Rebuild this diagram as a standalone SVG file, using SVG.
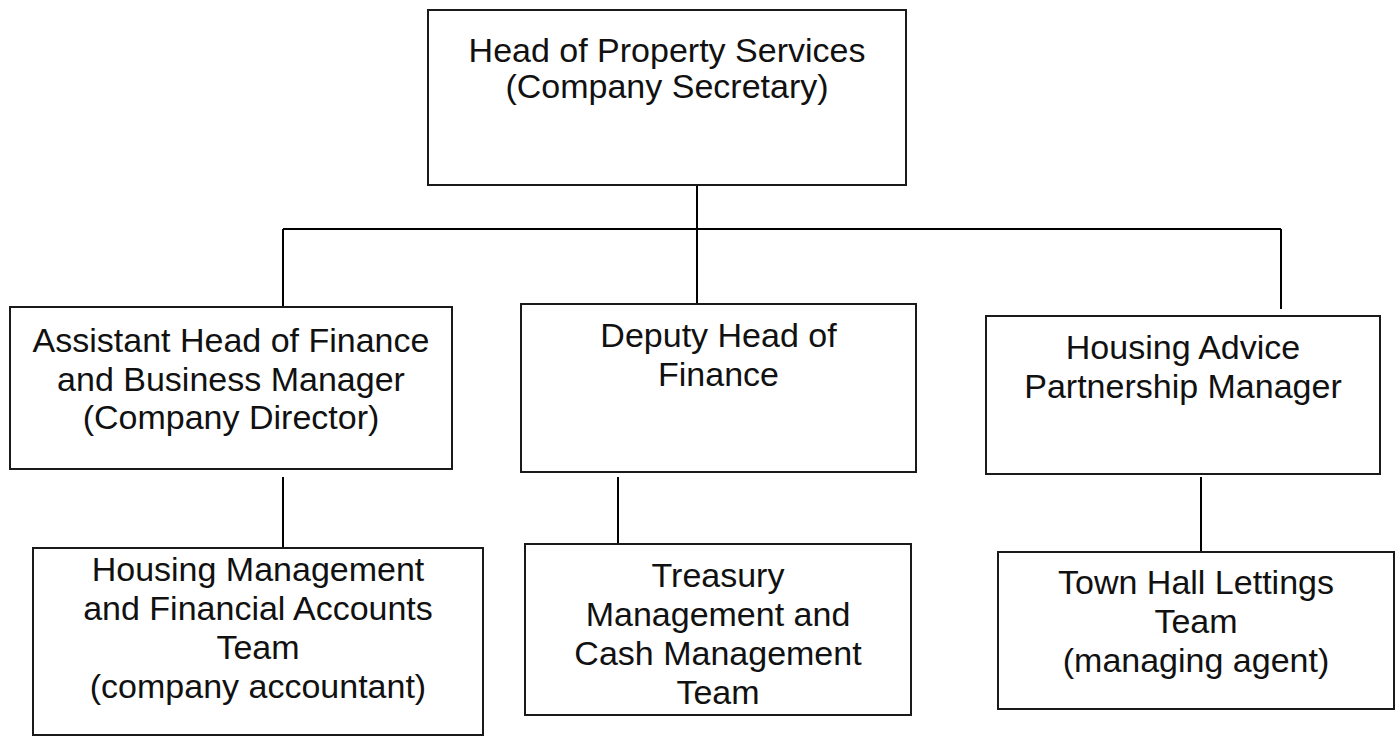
<svg xmlns="http://www.w3.org/2000/svg" width="1399" height="740" viewBox="0 0 1399 740">
  <style>
    .box { fill: #ffffff; stroke: #1a1a1a; stroke-width: 2; }
    .link { fill: none; stroke: #000000; stroke-width: 2; }
    text { font-family: "Liberation Sans", Arial, sans-serif; font-size: 34px; fill: #111111; text-anchor: middle; }
  </style>
  <rect width="1399" height="740" fill="#ffffff"/>

  <!-- reporting lines -->
  <g id="connectors">
    <path class="link" d="M697,185 V309"/>
    <path class="link" d="M283,229 H1281"/>
    <path class="link" d="M283,229 V309"/>
    <path class="link" d="M1281,229 V309"/>
    <path class="link" d="M283,477 V552"/>
    <path class="link" d="M618,477 V552"/>
    <path class="link" d="M1201,477 V552"/>
  </g>

  <g id="head-of-property-services">
    <rect class="box" x="428" y="10" width="478" height="175"/>
    <text x="667" y="62">Head of Property Services</text>
    <text x="667" y="98">(Company Secretary)</text>
  </g>

  <g id="assistant-head-of-finance">
    <rect class="box" x="10" y="307" width="442" height="162"/>
    <text x="231" y="352">Assistant Head of Finance</text>
    <text x="231" y="391">and Business Manager</text>
    <text x="231" y="429">(Company Director)</text>
  </g>

  <g id="deputy-head-of-finance">
    <rect class="box" x="521" y="304" width="395" height="168"/>
    <text x="718.5" y="347">Deputy Head of</text>
    <text x="718.5" y="386">Finance</text>
  </g>

  <g id="housing-advice-partnership-manager">
    <rect class="box" x="986" y="316" width="394" height="158"/>
    <text x="1183" y="359">Housing Advice</text>
    <text x="1183" y="398">Partnership Manager</text>
  </g>

  <g id="housing-management-team">
    <rect class="box" x="33" y="548" width="450" height="187"/>
    <text x="258" y="581">Housing Management</text>
    <text x="258" y="620">and Financial Accounts</text>
    <text x="258" y="659">Team</text>
    <text x="258" y="698">(company accountant)</text>
  </g>

  <g id="treasury-team">
    <rect class="box" x="525" y="544" width="386" height="171"/>
    <text x="718" y="587">Treasury</text>
    <text x="718" y="626">Management and</text>
    <text x="718" y="665">Cash Management</text>
    <text x="718" y="704">Team</text>
  </g>

  <g id="town-hall-lettings-team">
    <rect class="box" x="998" y="552" width="396" height="157"/>
    <text x="1196" y="594">Town Hall Lettings</text>
    <text x="1196" y="633">Team</text>
    <text x="1196" y="672">(managing agent)</text>
  </g>
</svg>
